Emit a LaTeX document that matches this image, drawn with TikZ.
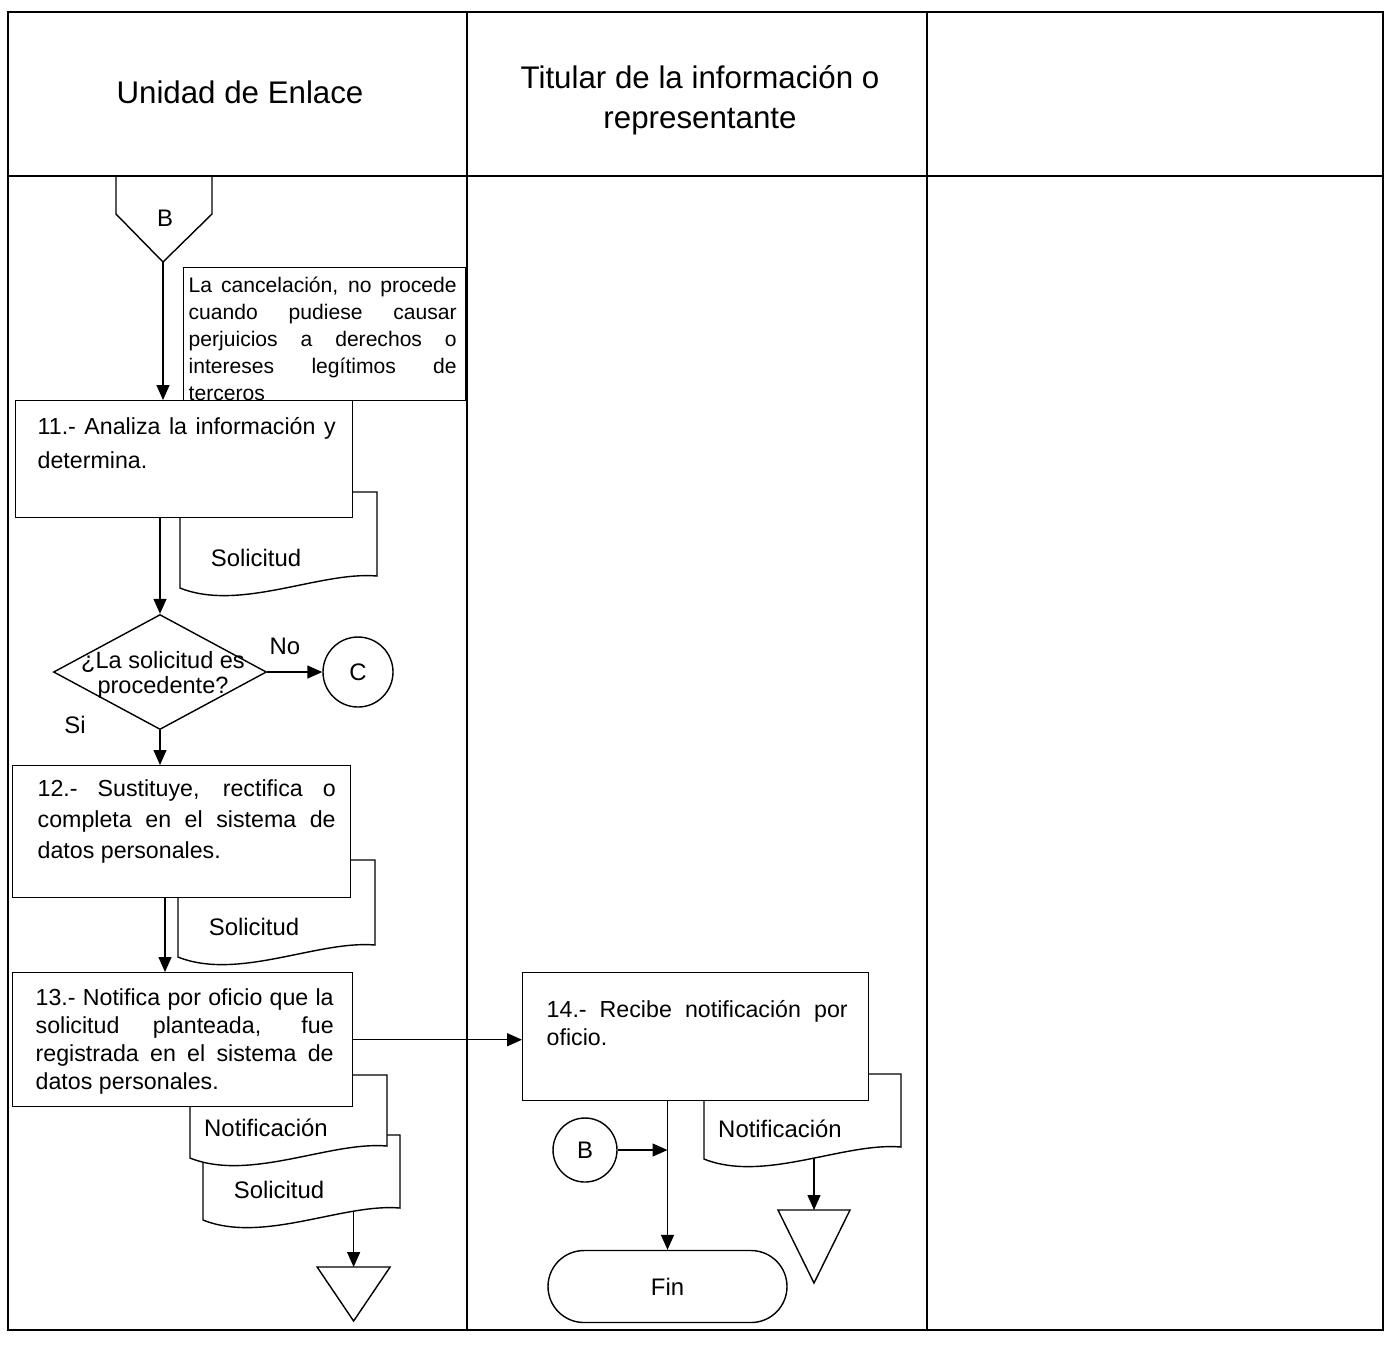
\documentclass[tikz,border=0pt]{standalone}
\usepackage{fontspec}
\setmainfont{Liberation Sans}
\usetikzlibrary{shapes,arrows.meta,positioning}
\hyphenpenalty=10000

% hoja con borde inferior ondulado: nombre, x izq, y sup, y inf izq, texto
\newcommand{\hoja}[5]{%
  \draw[fill=white] (#2,#3) -- ++(1.97,0) -- ({#2+1.97},{#4+0.12})
    .. controls ({#2+1.40},{#4+0.17}) and ({#2+0.60},{#4-0.24}) .. (#2,#4)
    node[coordinate, pos=0.25] (#1-r) {} node[coordinate, pos=0.45] (#1-m) {}
    -- cycle;
  \node[doctext] (#1) at ({#2+0.76},{#4+0.30}) {#5};
}

\begin{document}
\begin{tikzpicture}[>={Triangle[length=1.5mm,width=1.3mm]},
        font=\fontsize{6.8}{8.2}\selectfont,
        block/.style={draw, fill=white, inner sep=0pt, anchor=north west},
        steptext/.style={inner sep=0pt, text width=2.98cm, align=justify, font=\fontsize{6.6}{8.6}\selectfont},
        notetext/.style={inner sep=0pt, text width=2.68cm, align=justify, font=\fontsize{6}{7.7}\selectfont},
        doctext/.style={inner sep=0pt},
        lanetitle/.style={align=center, font=\fontsize{8.9}{11.4}\selectfont},
        connector/.style={draw, circle, fill=white, inner sep=0pt}]
    \useasboundingbox (0,0) rectangle (13.89,-13.47);

    % tabla de carriles
    \draw[line width=0.6pt] (0.08,-0.12) rectangle (13.83,-13.30);
    \draw[line width=0.6pt] (0.08,-1.76) -- (13.83,-1.76);
    \draw (4.67,-0.12) -- (4.67,-13.30);
    \draw (9.27,-0.12) -- (9.27,-13.30);

    \node[lanetitle] (lane1) at (2.40,-0.92) {Unidad de Enlace};
    \node[lanetitle] (lane2) at (7.00,-1.00) {Titular de la información o\\representante};

    % conector fuera de pagina
    \draw (1.16,-1.76) -- (2.12,-1.76) -- (2.12,-2.14) -- (1.63,-2.62) -- (1.16,-2.14) -- cycle;
    \node (offB) at (1.65,-2.18) {B};
    \coordinate (offBtip) at (1.63,-2.62);

    % nota
    \node[draw, minimum width=2.82cm, minimum height=1.33cm, inner sep=0pt, anchor=north west] (nota) at (1.83,-2.67) {};
    \node[notetext, below right=0.09cm and 0.05cm of nota.north west] (notatxt)
        {La cancelación, no procede\linebreak cuando pudiese causar\linebreak perjuicios a derechos o\linebreak intereses legítimos de\linebreak terceros};

    % documentos
    \hoja{h11}{1.80}{-4.92}{-5.88}{Solicitud}
    \hoja{h12}{1.78}{-8.60}{-9.57}{Solicitud}
    \hoja{hs13}{2.03}{-11.35}{-12.20}{Solicitud}
    \hoja{hn13}{1.90}{-10.75}{-11.58}{Notificación}
    \hoja{h14}{7.04}{-10.74}{-11.59}{Notificación}

    % actividades
    \node[block, minimum width=3.37cm, minimum height=1.17cm] (p11) at (0.15,-4.00) {};
    \node[steptext, font=\fontsize{6.6}{9.6}\selectfont, below right=0.17cm and 0.22cm of p11.north west] (t11)
        {11.- Analiza la información y\linebreak determina.};

    \node[block, minimum width=3.38cm, minimum height=1.32cm] (p12) at (0.12,-7.65) {};
    \node[steptext, font=\fontsize{6.6}{8.8}\selectfont, below right=0.14cm and 0.25cm of p12.north west] (t12)
        {12.- Sustituye, rectifica o\linebreak completa en el sistema de\linebreak datos personales.};

    \node[block, minimum width=3.40cm, minimum height=1.34cm] (p13) at (0.12,-9.72) {};
    \node[steptext, font=\fontsize{6.6}{8}\selectfont, below right=0.16cm and 0.23cm of p13.north west] (t13)
        {13.- Notifica por oficio que la\linebreak solicitud planteada, fue\linebreak registrada en el sistema de\linebreak datos personales.};

    \node[block, minimum width=3.46cm, minimum height=1.28cm] (p14) at (5.22,-9.72) {};
    \node[steptext, font=\fontsize{6.6}{8}\selectfont, text width=3.01cm, below right=0.28cm and 0.24cm of p14.north west] (t14)
        {14.- Recibe notificación por\linebreak oficio.};

    % decision
    \node[draw, diamond, minimum width=2.13cm, minimum height=1.15cm, inner sep=0pt] (dec) at (1.60,-6.72) {};
    \node[align=center, font=\fontsize{6.7}{7.2}\selectfont] (dectxt) at (1.63,-6.75) {¿La solicitud es\\procedente?};
    \node[connector, minimum size=0.70cm] (conC) at (3.58,-6.72) {C};
    \node (no) at (2.85,-6.46) {No};
    \node (si) at (0.75,-7.25) {Si};

    % fin
    \node[connector, minimum size=0.64cm] (conB) at (5.85,-11.50) {B};
    \node[draw, rounded corners=0.36cm, minimum width=2.39cm, minimum height=0.72cm, inner sep=0pt] (fin) at (6.675,-12.865) {Fin};

    % archivo
    \coordinate (arch13) at (hs13-r |- 0,-12.67);
    \coordinate (arch14) at (h14-m |- 0,-12.10);
    \draw ([xshift=-0.365cm]arch13) -- ([xshift=0.365cm]arch13) -- ([yshift=-0.54cm]arch13) -- cycle;
    \draw ([xshift=-0.36cm]arch14) -- ([xshift=0.36cm]arch14) -- ([yshift=-0.73cm]arch14) -- cycle;

    \draw[->] (offBtip) -- (offBtip |- p11.north);
    \draw[->] (p11.south -| dec.north) -- (dec.north);
    \draw[->] (dec.east) -- (conC.west);
    \draw[->] (dec.south) -- (dec.south |- p12.north);
    \draw[->] ([xshift=0.05cm]dec.south |- p12.south) -- ([xshift=0.05cm]dec.south |- p13.north);
    \draw[->] (p13.east) -- (p13.east -| p14.west);
    \draw[->] (fin.north |- p14.south) -- (fin.north);
    \draw[->] (conB.east) -- (conB.east -| fin.north);
    \draw[->] (hs13-r) -- (arch13);
    \draw[->] (h14-m) -- (arch14);
\end{tikzpicture}
\end{document}
